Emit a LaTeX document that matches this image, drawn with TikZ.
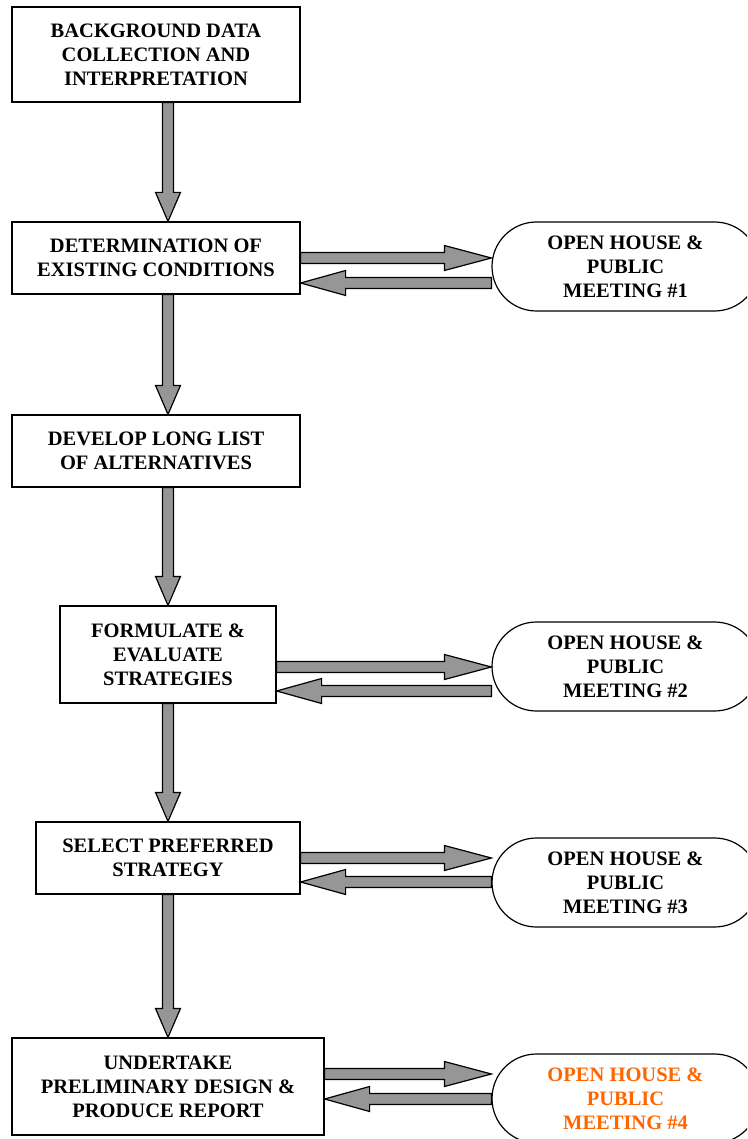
\documentclass[tikz,border=0pt]{standalone}
\usepackage{fontspec}
\setmainfont{Liberation Serif}
\usetikzlibrary{calc,positioning,shapes.misc}

\definecolor{r150g150b150}{RGB}{150,150,150}
\definecolor{r255g102b0}{RGB}{255,102,0}

\tikzset{
  stepbox/.style={draw, line width=1.2pt, fill=white, align=center, inner sep=0pt,
    font=\bfseries\fontsize{20.5}{24}\selectfont},
  meetbox/.style={stepbox, rounded rectangle, minimum width=267pt, minimum height=89pt},
  fatarrow/.style={draw, line width=1.2pt, fill=r150g150b150, line join=miter}
}

% block arrow: #1 head length, #2 from, #3 to
\newcommand{\bigarrow}[3]{%
  \coordinate (ba-s) at (#2);%
  \coordinate (ba-t) at (#3);%
  \coordinate (ba-h) at ($(ba-t)!#1!(ba-s)$);%
  \draw [fatarrow] ($(ba-s)!5.5pt!90:(ba-t)$) -- ($(ba-h)!5.5pt!90:(ba-t)$) -- ($(ba-h)!12.5pt!90:(ba-t)$)
    -- (ba-t) -- ($(ba-h)!12.5pt!-90:(ba-t)$) -- ($(ba-h)!5.5pt!-90:(ba-t)$) -- ($(ba-s)!5.5pt!-90:(ba-t)$) -- cycle;%
}

\begin{document}
\begin{tikzpicture}[x=1pt,y=-1pt]
                        \path [use as bounding box, clip] (0,0) rectangle (747,1139);

                        % Drawing the steps
                        \node [stepbox, minimum width=288pt, minimum height=95pt] (bg) at (156,54.5)
                          {BACKGROUND DATA\\COLLECTION AND\\INTERPRETATION};%
                        \node [stepbox, minimum width=288pt, minimum height=72pt] (det) at (156,258)
                          {DETERMINATION OF\\EXISTING CONDITIONS};%
                        \node [stepbox, minimum width=288pt, minimum height=72pt] (dev) at (156,451)
                          {DEVELOP LONG LIST\\OF ALTERNATIVES};%
                        \node [stepbox, minimum width=216pt, minimum height=97pt] (form) at (168,654.5)
                          {FORMULATE \&\\EVALUATE\\STRATEGIES};%
                        \node [stepbox, minimum width=264pt, minimum height=72pt] (sel) at (168,858)
                          {SELECT PREFERRED\\STRATEGY};%
                        \node [stepbox, minimum width=312pt, minimum height=97pt] (und) at (168,1086.5)
                          {UNDERTAKE\\PRELIMINARY DESIGN \&\\PRODUCE REPORT};%

                        % Drawing the public meetings
                        \node [meetbox] (meet1) at (625.5,266.5) {OPEN HOUSE \&\\PUBLIC\\MEETING \#1};%
                        \node [meetbox] (meet2) at (625.5,666.5) {OPEN HOUSE \&\\PUBLIC\\MEETING \#2};%
                        \node [meetbox] (meet3) at (625.5,882.5) {OPEN HOUSE \&\\PUBLIC\\MEETING \#3};%
                        \node [meetbox, text=r255g102b0] (meet4) at (625.5,1098.5) {OPEN HOUSE \&\\PUBLIC\\MEETING \#4};%

                        % Drawing arrows down the steps
                        \bigarrow{29pt}{168,0 |- bg.south}{168,0 |- det.north}
                        \bigarrow{29pt}{168,0 |- det.south}{168,0 |- dev.north}
                        \bigarrow{29pt}{168,0 |- dev.south}{168,0 |- form.north}
                        \bigarrow{29pt}{168,0 |- form.south}{168,0 |- sel.north}
                        \bigarrow{29pt}{168,0 |- sel.south}{168,0 |- und.north}

                        % Drawing arrows to and from the meetings
                        \bigarrow{47pt}{det.east |- 0,258}{meet1.west |- 0,258}
                        \bigarrow{45pt}{meet1.west |- 0,283}{det.east |- 0,283}
                        \bigarrow{47pt}{form.east |- 0,667}{meet2.west |- 0,667}
                        \bigarrow{45pt}{meet2.west |- 0,691}{form.east |- 0,691}
                        \bigarrow{47pt}{sel.east |- 0,858}{meet3.west |- 0,858}
                        \bigarrow{45pt}{meet3.west |- 0,882}{sel.east |- 0,882}
                        \bigarrow{47pt}{und.east |- 0,1074}{meet4.west |- 0,1074}
                        \bigarrow{45pt}{meet4.west |- 0,1099}{und.east |- 0,1099}
                    \end{tikzpicture}
\end{document}
